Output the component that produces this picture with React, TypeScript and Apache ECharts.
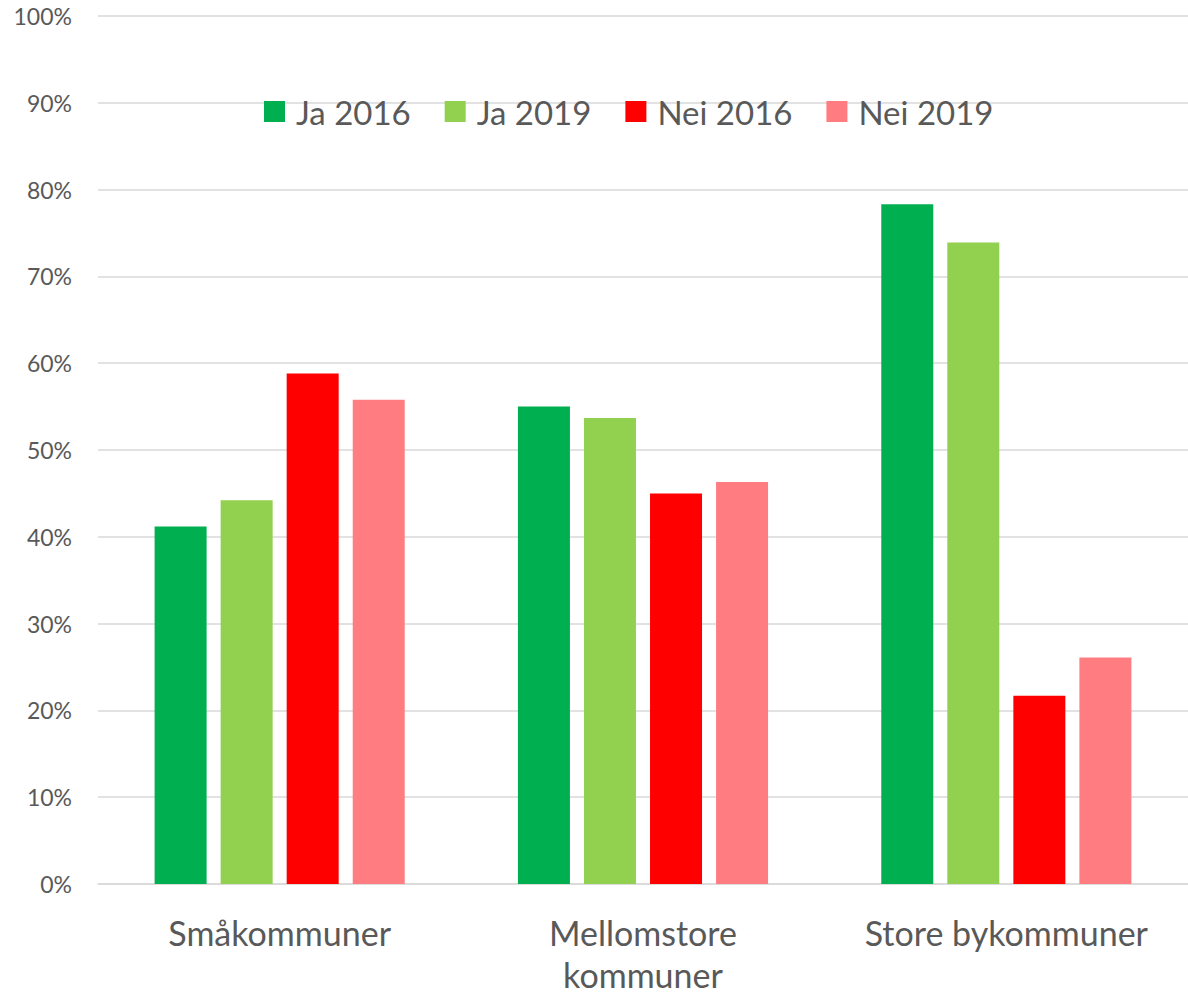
import React, { useEffect, useRef } from "react";
import * as echarts from "echarts";

const categories = ["Småkommuner", "Mellomstore\nkommuner", "Store bykommuner"];
const seriesNames = ["Ja 2016", "Ja 2019", "Nei 2016", "Nei 2019"];
const ja2016 = [41.2, 55.0, 78.3];
const ja2019 = [44.2, 53.7, 73.9];
const nei2016 = [58.8, 45.0, 21.7];
const nei2019 = [55.8, 46.3, 26.1];
const colors = ["#00B050", "#92D050", "#FF0000", "#FF7C80"];

const FONT = "Lato, 'Open Sans', sans-serif";

export default function App() {
  const ref = useRef<HTMLDivElement>(null);
  useEffect(() => {
    document.body.style.margin = "0";
    if (!ref.current) return;
    const chart = echarts.init(ref.current, undefined, { renderer: "svg" });
    const values = [ja2016, ja2019, nei2016, nei2019];
    chart.setOption({
      animation: false,
      backgroundColor: "#ffffff",
      textStyle: { fontFamily: FONT },
      grid: { left: 98, width: 1098, top: 16, height: 871, containLabel: false },
      legend: {
        data: seriesNames,
        top: 90,
        left: 259,
        itemWidth: 21,
        itemHeight: 21,
        itemGap: 34,
        icon: "rect",
        textStyle: { fontSize: 33, color: "#595959", fontFamily: FONT, padding: [0, 0, 0, 6] },
      },
      xAxis: {
        type: "category",
        data: categories,
        axisLine: { lineStyle: { color: "#d9d9d9", width: 1.5 } },
        axisTick: { show: false },
        axisLabel: {
          fontSize: 34,
          color: "#595959",
          fontFamily: FONT,
          margin: 27,
          lineHeight: 42,
          interval: 0,
        },
      },
      yAxis: {
        type: "value",
        min: 0,
        max: 100,
        interval: 10,
        axisLine: { show: false },
        axisTick: { show: false },
        splitLine: { lineStyle: { color: "#d9d9d9", width: 1.5 } },
        axisLabel: {
          formatter: "{value}%",
          fontSize: 23,
          color: "#595959",
          fontFamily: FONT,
          margin: 26,
        },
      },
      series: seriesNames.map((name, i) => ({
        name,
        type: "bar",
        data: values[i],
        barWidth: 52,
        barGap: "27%",
        itemStyle: { color: colors[i] },
      })),
    });
    return () => chart.dispose();
  }, []);
  return (
    <div
      ref={ref}
      style={{ position: "absolute", left: 0, top: 0, width: 1188, height: 995 }}
    />
  );
}
